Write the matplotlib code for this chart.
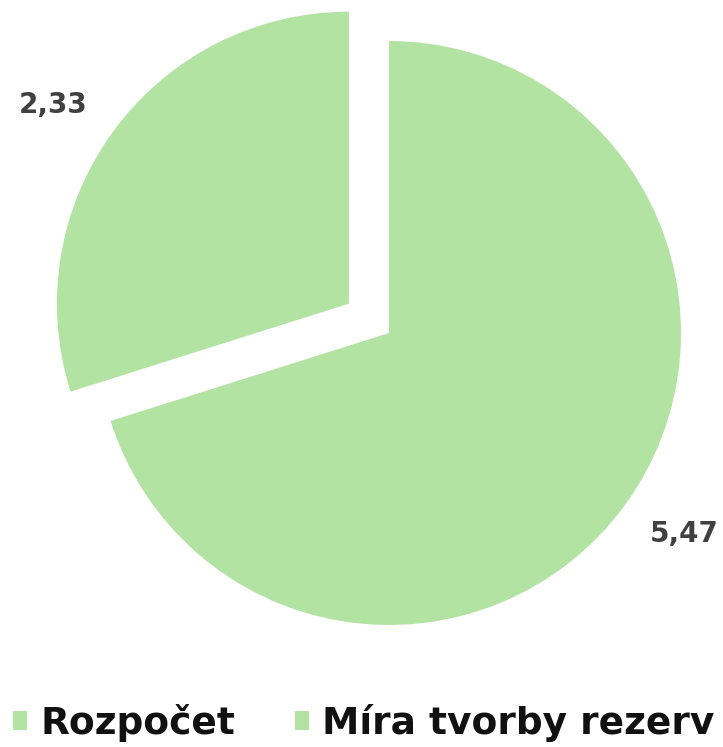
import matplotlib.pyplot as plt

labels = ['Rozpočet', 'Míra tvorby rezerv']
values = [5.47, 2.33]
value_text = ['5,47', '2,33']
green = '#b3e3a3'

plt.rcParams['font.family'] = ['DejaVu Sans']

fig = plt.figure(figsize=(7.23, 7.47), dpi=100)
ax = fig.add_axes([0, 0, 1, 1])

# pie centre sits at (389, 333) px, radius ~292 px
R = 292.0
cx, cy = 389.0, 333.0
wedges, texts = ax.pie(values, labels=value_text, colors=[green, green],
                       startangle=90, counterclock=False, radius=1,
                       explode=[0, 0.17], labeldistance=1.22,
                       wedgeprops=dict(linewidth=0),
                       textprops=dict(fontsize=20, fontweight='bold', color='#404040'))
# label spots as in the original
label_pos = [(1.01, -0.69), (-1.15, 0.78)]
for t, p in zip(texts, label_pos):
    t.set_position(p)
    t.set_ha('center')
    t.set_va('center')

ax.set_aspect('auto')
ax.set_xlim(-cx / R, (723 - cx) / R)
ax.set_ylim(-(747 - cy) / R, cy / R)
ax.axis('off')

leg = fig.legend(wedges, labels, loc='center', bbox_to_anchor=(0.503, 1 - 723 / 747),
                 ncol=2, frameon=False,
                 prop=dict(weight='bold', size=27),
                 handlelength=0.37, handleheight=0.37, handletextpad=0.35,
                 columnspacing=1.6, borderpad=0)
for txt in leg.get_texts():
    txt.set_color('#111111')

fig.savefig('out.png', dpi=100)
